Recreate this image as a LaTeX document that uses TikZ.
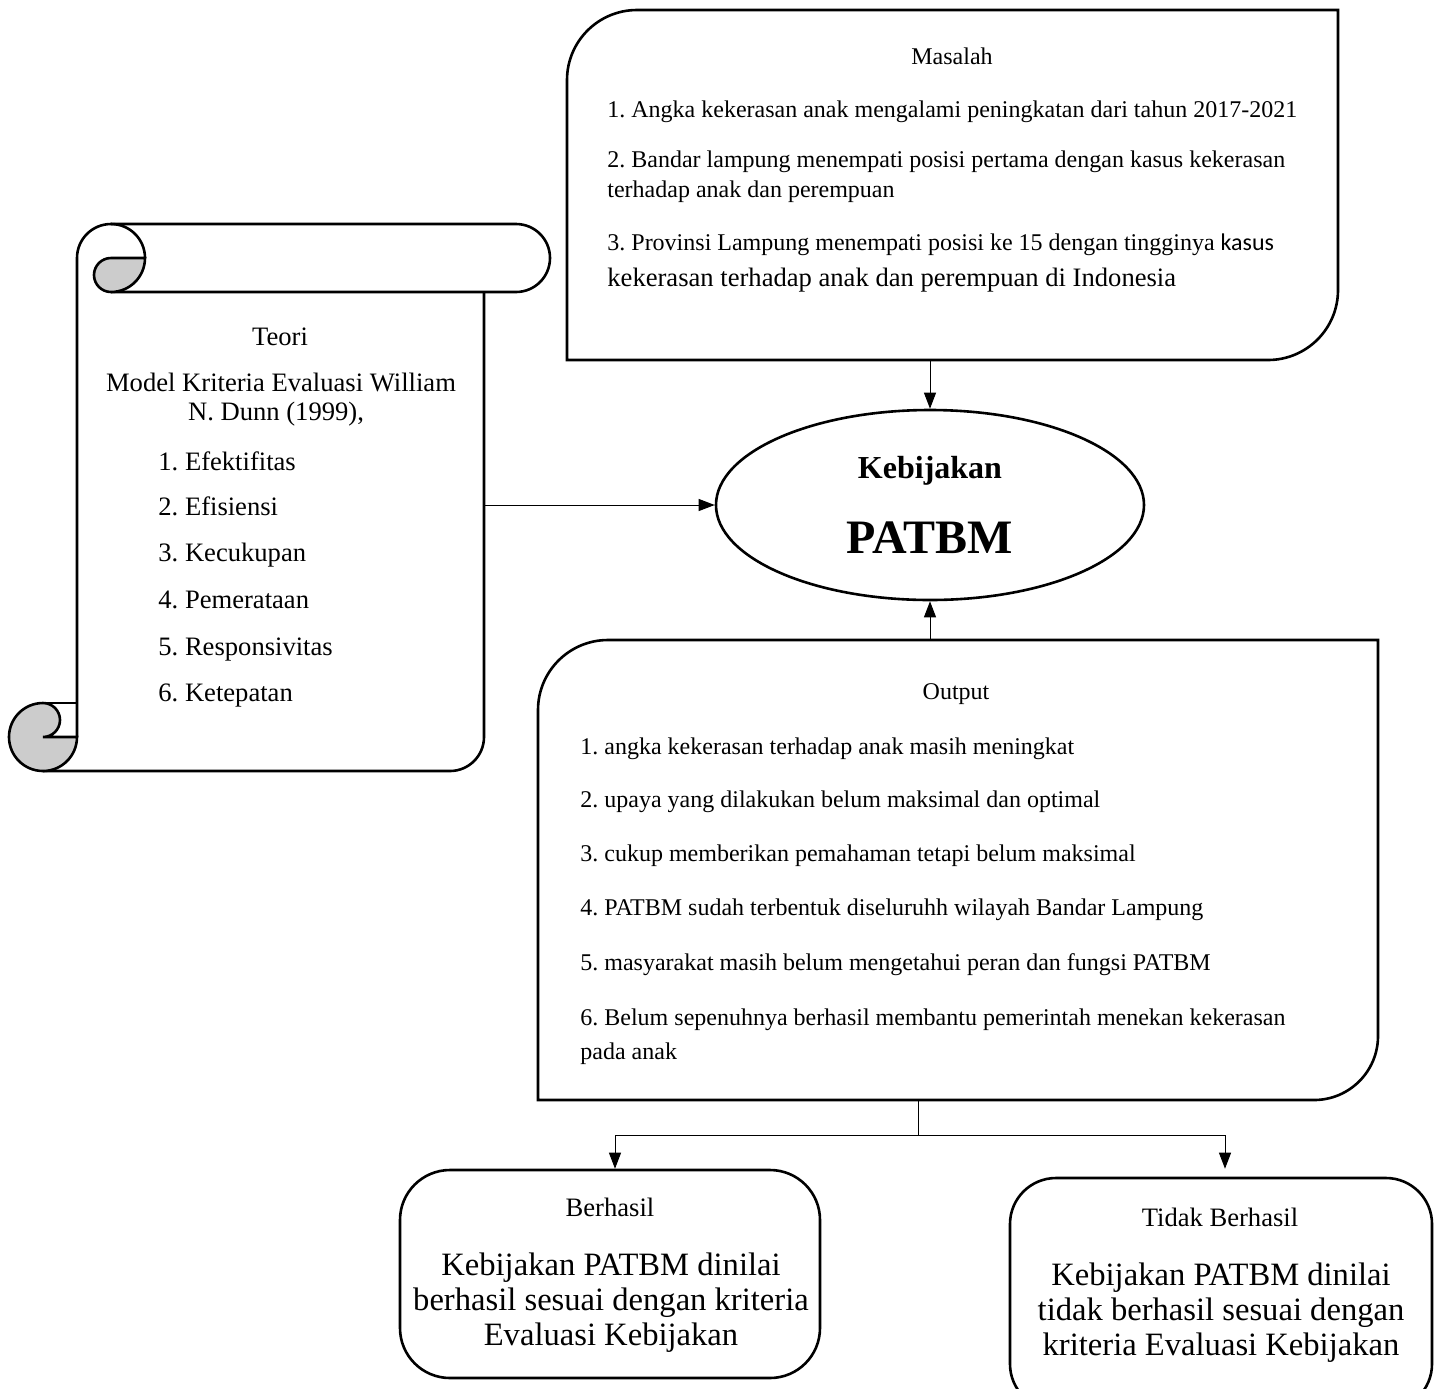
\documentclass[tikz,border=0pt]{standalone}
\usepackage{fontspec}
\setmainfont{Liberation Serif}
\newfontfamily\kasusfont{Carlito}
\usetikzlibrary{arrows.meta,shapes.geometric,fit}
\frenchspacing

\begin{document}
\begin{tikzpicture}
[x=0.5pt,y=-0.5pt,
  boxDecorate/.style={line width=1.3pt},
  areaDecorate/.style={inner sep=0pt,outer sep=0pt},
  lineDecorate/.style={line width=0.5pt},
  arrowDecorate/.style={line width=0.5pt,-{Triangle[length=8pt,width=6pt]}},
  textTwelve/.style={inner sep=0pt,font=\fontsize{12}{14}\selectfont},
  textThirteen/.style={inner sep=0pt,font=\fontsize{13.3}{15}\selectfont},
  textSixteen/.style={inner sep=0pt,font=\fontsize{16.3}{18}\selectfont}]
\useasboundingbox (0,0) rectangle (1435,1388);

%% areas of the boxes
\node[areaDecorate,fit={(567,10) (1338,360)}] (masalah) {};
\node[areaDecorate,fit={(538,640) (1378,1100)}] (output) {};
\node[areaDecorate,fit={(77,258) (484,771)}] (teori) {};
\node[draw,boxDecorate,ellipse,inner sep=0pt,minimum width=214pt,minimum height=95pt] (kebijakan) at (930,505) {};
\node[draw,boxDecorate,rounded corners=25pt,minimum width=210pt,minimum height=104pt] (berhasil) at (610,1274) {};
\node[draw,boxDecorate,rounded corners=23pt,minimum width=211pt,minimum height=116pt] (tidak) at (1221,1294) {};

%% round diagonal boxes
\draw[boxDecorate] (masalah.south west) -- ([yshift=-35pt]masalah.north west)
  arc[start angle=180,end angle=90,radius=35pt] -- (masalah.north east)
  -- ([yshift=35pt]masalah.south east) arc[start angle=0,end angle=-90,radius=35pt] -- cycle;
\draw[boxDecorate] (output.south west) -- ([yshift=-35pt]output.north west)
  arc[start angle=180,end angle=90,radius=35pt] -- (output.north east)
  -- ([yshift=32pt]output.south east) arc[start angle=0,end angle=-90,radius=32pt] -- cycle;

%% scroll
\draw[boxDecorate] (77,737) -- (77,258) arc[start angle=180,end angle=270,radius=34]
  -- (516,224) arc[start angle=270,end angle=450,radius=34] -- (111,292);
\draw[boxDecorate] (111,224) arc[start angle=270,end angle=360,radius=34];
\draw[boxDecorate,fill=gray!40] (111,258) -- (145,258) arc[start angle=0,end angle=90,radius=34]
  arc[start angle=90,end angle=270,radius=17] -- cycle;
\draw[boxDecorate] (43,771) -- (450,771) arc[start angle=90,end angle=0,radius=34] -- (484,292);
\draw[boxDecorate,fill=gray!40] (77,737) arc[start angle=0,end angle=270,radius=34]
  arc[start angle=-90,end angle=90,radius=17] -- cycle;
\draw[boxDecorate] (43,703) -- (77,703);

%% connectors
\coordinate (split) at (918,1135);
\draw[arrowDecorate] (masalah.south -| kebijakan.north) -- (kebijakan.north);
\draw[arrowDecorate] (output.north -| kebijakan.south) -- (kebijakan.south);
\draw[arrowDecorate] ([yshift=4.75pt]teori.east) -- (kebijakan.west);
\draw[lineDecorate] (output.south -| split) -- (split);
\draw[arrowDecorate] (split) -| ([xshift=2.5pt]berhasil.north);
\draw[arrowDecorate,shorten >=4pt] (split) -| ([xshift=2pt]tidak.north);

%% texts
\node[textTwelve,anchor=base] (masalahTitle) at (952,64) {Masalah};
\foreach \n/\y/\t in {1/117/{1. Angka kekerasan anak mengalami peningkatan dari tahun 2017-2021},
  2/167/{2. Bandar lampung menempati posisi pertama dengan kasus kekerasan},
  3/197/{terhadap anak dan perempuan},
  4/250/{3. Provinsi Lampung menempati posisi ke 15 dengan tingginya {\kasusfont kasus}}} {
  \node[textTwelve,anchor=base west] (masalah\n) at (607,\y) {\t};
}
\node[textThirteen,anchor=base west] (masalah5) at (607,286) {kekerasan terhadap anak dan perempuan di Indonesia};

\node[inner sep=0pt,anchor=base,font=\bfseries\fontsize{16}{18}\selectfont] (kebijakanTitle) at (930,478) {Kebijakan};
\node[inner sep=0pt,anchor=base,font=\bfseries\fontsize{24}{28}\selectfont] (patbm) at (930,553) {PATBM};

\node[textTwelve,anchor=base] (outputTitle) at (956,699) {Output};
\foreach \n/\y/\t in {1/754/{1. angka kekerasan terhadap anak masih meningkat},
  2/807/{2. upaya yang dilakukan belum maksimal dan optimal},
  3/861/{3. cukup memberikan pemahaman tetapi belum maksimal},
  4/915/{4. PATBM sudah terbentuk diseluruhh wilayah Bandar Lampung},
  5/970/{5. masyarakat masih belum mengetahui peran dan fungsi PATBM},
  6/1025/{6. Belum sepenuhnya berhasil membantu pemerintah menekan kekerasan},
  7/1059/{pada anak}} {
  \node[textTwelve,anchor=base west] (output\n) at (580,\y) {\t};
}

\node[textThirteen,anchor=base] (teoriTitle) at (280,345) {Teori};
\node[textThirteen,anchor=base] (teori1) at (281,391) {Model Kriteria Evaluasi William};
\node[textThirteen,anchor=base] (teori2) at (276,420) {N. Dunn (1999),};
\foreach \n/\y/\t in {1/470/Efektifitas, 2/515/Efisiensi, 3/561/Kecukupan,
  4/608/Pemerataan, 5/655/Responsivitas, 6/701/Ketepatan} {
  \node[textThirteen,anchor=base west] (kriteria\n) at (158,\y) {\n. \t};
}

\node[textThirteen,anchor=base] (berhasilTitle) at (610,1216) {Berhasil};
\foreach \n/\y/\t in {1/1275/{Kebijakan PATBM dinilai},
  2/1310/{berhasil sesuai dengan kriteria},
  3/1345/{Evaluasi Kebijakan}} {
  \node[textSixteen,anchor=base] (berhasil\n) at (611,\y) {\t};
}
\node[textThirteen,anchor=base] (tidakTitle) at (1220,1226) {Tidak Berhasil};
\foreach \n/\y/\t in {1/1285/{Kebijakan PATBM dinilai},
  2/1320/{tidak berhasil sesuai dengan},
  3/1355/{kriteria Evaluasi Kebijakan}} {
  \node[textSixteen,anchor=base] (tidak\n) at (1221,\y) {\t};
}
\end{tikzpicture}
\end{document}
